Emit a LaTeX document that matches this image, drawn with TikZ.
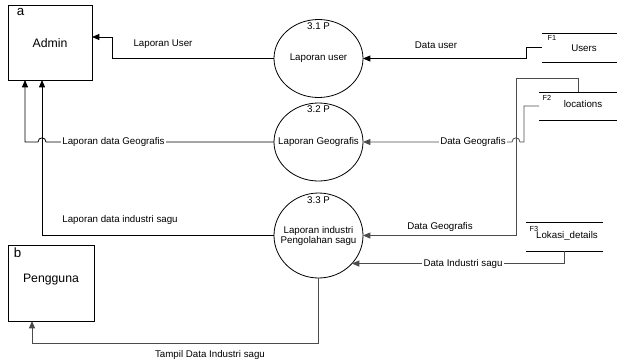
\documentclass[tikz,border=0pt]{standalone}
\usepackage{fontspec}
\setmainfont{Liberation Sans}
\usetikzlibrary{arrows.meta,shapes.geometric,calc}
\begin{document}
\begin{tikzpicture}[x=0.75pt,y=-0.75pt,
  line width=0.6pt,
  every node/.style={inner sep=0pt,outer sep=0pt},
  entity/.style={draw,rectangle},
  proc/.style={draw,ellipse,minimum width=66.75pt},
  store/.style={rectangle,minimum width=58.5pt,minimum height=21.75pt},
  flow/.style={-{Triangle[length=5.5pt,width=4.5pt]}},
  lbl/.style={font=\fontsize{7.3}{8}\selectfont},
  onl/.style={lbl,fill=white,inner xsep=0.8pt,inner ysep=1pt},
  tag/.style={font=\fontsize{5.5}{6}\selectfont},
  big/.style={font=\fontsize{9.2}{11}\selectfont},
  grayline/.style={draw=black!70}
]
\useasboundingbox (0,0) rectangle (617,361);

% external entities
\node[entity,minimum width=63pt,minimum height=56.25pt] (admin) at (50,42.5) {};
\node[big] at (50,43) {Admin};
\node[font=\fontsize{10}{12}\selectfont] at (20.5,12) {a};
\node[entity,minimum width=64.5pt,minimum height=57pt] (peng) at (51,283) {};
\node[big] at (51,280) {Pengguna};
\node[font=\fontsize{10}{12}\selectfont] at (17.5,253) {b};

% processes
\node[proc,minimum height=58.5pt] (p31) at (318.5,58.5) {};
\node[lbl] at (318.5,26) {3.1 P};
\node[lbl] at (318.5,58) {Laporan user};
\node[proc,minimum height=58.5pt] (p32) at (318.5,142) {};
\node[lbl] at (318.5,109) {3.2 P};
\node[lbl] at (318.5,142) {Laporan Geografis};
\node[proc,minimum height=63.75pt] (p33) at (318.5,235.5) {};
\node[lbl] at (318.5,200) {3.3 P};
\node[lbl,align=center] at (318.5,236) {Laporan industri\\Pengolahan sagu};

% data stores
\node[store] (f1) at (580.5,47.5) {};
\draw (f1.north west) -- (f1.north east) (f1.south west) -- (f1.south east);
\node[tag] at (552,38) {F1};
\node[lbl] at (584,48) {Users};
\node[store,minimum width=58.5pt,minimum height=21pt] (f2) at (578,106) {};
\draw (f2.north west) -- (f2.north east) (f2.south west) -- (f2.south east);
\node[tag] at (547,98) {F2};
\node[lbl] at (583,104) {locations};
\node[store,minimum width=57.75pt,minimum height=21.75pt] (f3) at (564.5,236.5) {};
\draw (f3.north west) -- (f3.north east) (f3.south west) -- (f3.south east);
\node[tag] at (534,229) {F3};
\node[lbl] at (567,236) {Lokasi\_details};

% bend points
\coordinate (k1) at (112,37);
\coordinate (k2) at (516,78);
\coordinate (k4) at (32,343);

% Users -> 3.1
\draw[flow] (f1.west) -- ++(-15,0) |- (p31.east);
\node[lbl] at (436,45) {Data user};

% 3.1 -> Admin
\draw[flow] (p31.west) -| (k1) -- (k1 -| admin.east);
\node[lbl] at (163,44) {Laporan User};

% 3.2 -> Admin (hops over the 3.3 line)
\draw[flow] (p32.west) -- (46,142) .. controls (46,136.5) and (38,136.5) .. (38,142)
  -- (25,142) -- (25,142 |- admin.south);
\node[onl] at (113.5,142) {Laporan data Geografis};

% 3.3 -> Admin
\draw[flow] (p33.west) -| ($(admin.south west)+(34,0)$);
\node[lbl] at (120,219.5) {Laporan data industri sagu};

% locations -> 3.2 (hops over the locations -> 3.3 line)
\draw[flow,grayline] (f2.west) -- (524,106) -- (524,142) -- (520,142)
  .. controls (520,136.5) and (512,136.5) .. (512,142) -- (p32.east);
\node[onl] at (473,142) {Data Geografis};

% locations -> 3.3
\draw[flow,grayline] (f2.north) |- (k2) |- (p33.east);
\node[lbl] at (440,227) {Data Geografis};

% Lokasi_details -> 3.3
\draw[flow,grayline] (f3.south) |- (p33.-40.8);
\node[onl] at (463,264) {Data Industri sagu};

% 3.3 -> Pengguna
\draw[flow,grayline] (p33.south) |- (k4) -- (k4 |- peng.south);
\node[lbl] at (210,355) {Tampil Data Industri sagu};
\end{tikzpicture}
\end{document}
